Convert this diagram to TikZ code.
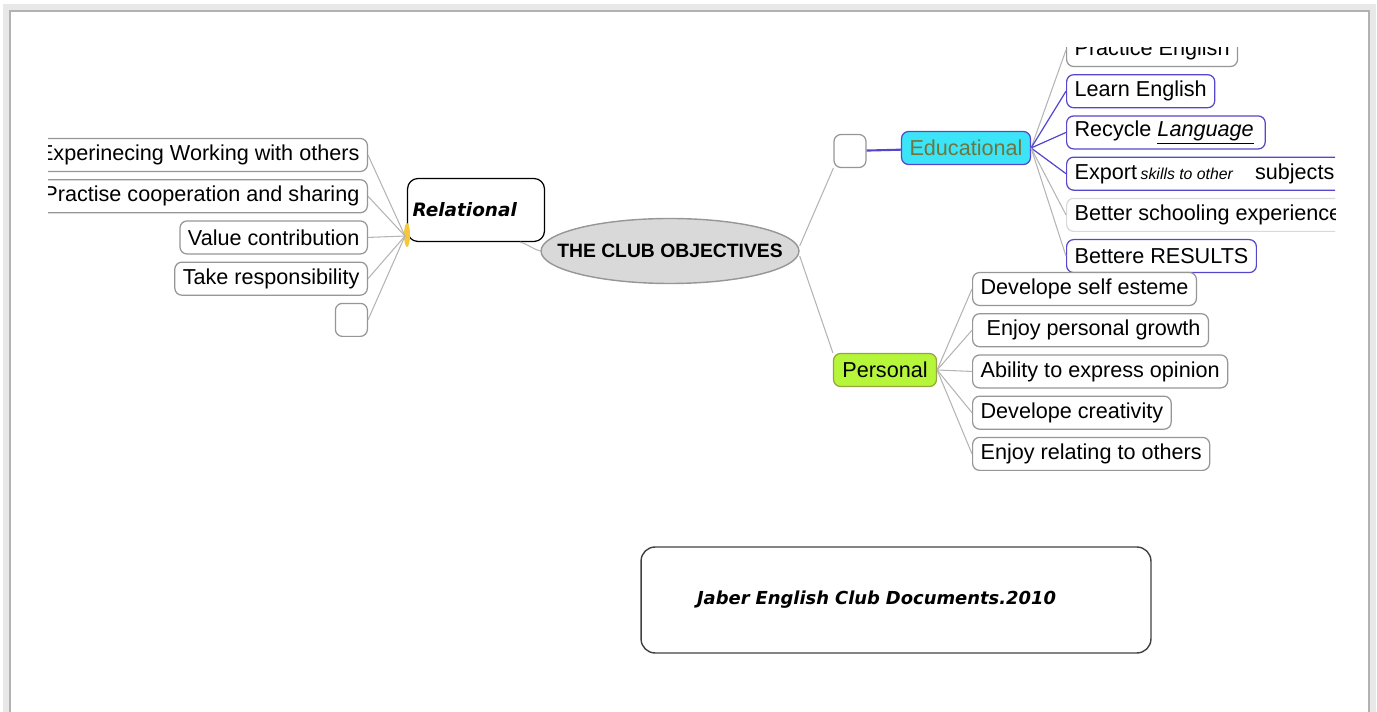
\documentclass[tikz,border=0pt]{standalone}
\usepackage{fontspec}
\setmainfont{Liberation Sans}
\newfontfamily\notefont{DejaVu Sans}
\usepackage{tikz}
\usetikzlibrary{shapes.geometric}
\usetikzlibrary{positioning}

\definecolor{boxgray}{RGB}{150,150,150}
\definecolor{linegray}{RGB}{180,180,180}
\definecolor{edublue}{RGB}{85,70,205}
\definecolor{educyan}{RGB}{60,228,248}
\definecolor{eduolive}{RGB}{110,118,62}
\definecolor{perslime}{RGB}{182,246,58}
\definecolor{persolive}{RGB}{150,165,60}
\definecolor{ovalgray}{RGB}{217,217,217}
\definecolor{humpyellow}{RGB}{245,200,60}

\begin{document}
\begin{tikzpicture}[x=0.02cm, y=-0.02cm, font=\fontsize{12.3}{14}\selectfont,
    idea/.style={rectangle, rounded corners=4pt, draw=boxgray, fill=white, line width=0.7pt, minimum height=0.66cm, inner xsep=0.16cm, inner ysep=0pt},
    eduidea/.style={idea, draw=edublue},
    blankidea/.style={idea, minimum width=0.64cm, inner xsep=0pt},
    link/.style={draw=linegray, line width=0.6pt},
    edulink/.style={draw=edublue, line width=0.7pt}]
    \useasboundingbox (0,0) rectangle (1377,712);
    \draw[gray!18, line width=3pt] (6,712) -- (6,7) -- (1373,7) -- (1373,712);
    \draw[gray!60, line width=1.2pt] (10,712) -- (10,11) -- (1369,11) -- (1369,712);

    \begin{scope}
    \clip (48,48) rectangle (1335,712);

    \node[ellipse, draw=boxgray, fill=ovalgray, line width=0.8pt, minimum width=5.16cm, minimum height=1.3cm, inner sep=0pt] (club) at (670,251) {};
    \node[font=\bfseries\fontsize{11}{13}\selectfont] (clubtext) at (club) {THE CLUB OBJECTIVES};

    \node[idea, draw=black, rounded corners=6pt, text width=2.54cm, inner xsep=0.1cm, minimum height=1.26cm, align=left, font=\notefont\bfseries\itshape\fontsize{10.5}{12}\selectfont] (relational) at (476,210) {Relational};
    \fill[humpyellow] (407,235) ellipse [x radius=3, y radius=12];
    \coordinate (relhub) at (405,236);

    \node[idea, anchor=east] (working) at (368,155) {Experinecing Working with others};
    \node[idea, below=0.14cm of working.south east, anchor=north east] (sharing) {Practise cooperation and sharing};
    \node[idea, below=0.14cm of sharing.south east, anchor=north east] (value) {Value contribution};
    \node[idea, below=0.14cm of value.south east, anchor=north east] (resp) {Take responsibility};
    \node[blankidea, below=0.14cm of resp.south east, anchor=north east] (blankrel) {};

    \node[blankidea] (blankedu) at (850,151) {};
    \node[idea, draw=edublue, fill=educyan, text=eduolive, minimum width=2.54cm] (educational) at (966,148) {Educational};

    \node[idea, anchor=west] (practice) at (1066,50) {Practice English};
    \node[eduidea, below=0.14cm of practice.south west, anchor=north west] (learn) {Learn English};
    \node[eduidea, below=0.14cm of learn.south west, anchor=north west] (recycle) {Recycle \underline{\textit{Language}}\,};
    \node[eduidea, below=0.14cm of recycle.south west, anchor=north west] (export) {Export\,\textit{\small skills to other}\quad subjects};
    \node[idea, draw=gray!30, below=0.14cm of export.south west, anchor=north west] (schooling) {Better schooling experience};
    \node[eduidea, below=0.14cm of schooling.south west, anchor=north west] (results) {Bettere RESULTS};

    \node[idea, draw=persolive, fill=perslime, minimum width=2.06cm] (personal) at (885,370) {Personal};

    \node[idea, anchor=west] (esteem) at (972,289) {Develope self esteme};
    \node[idea, below=0.14cm of esteem.south west, anchor=north west] (growth) {\ Enjoy personal growth};
    \node[idea, below=0.14cm of growth.south west, anchor=north west] (opinion) {Ability to express opinion};
    \node[idea, below=0.14cm of opinion.south west, anchor=north west] (creativity) {Develope creativity};
    \node[idea, below=0.14cm of creativity.south west, anchor=north west] (relating) {Enjoy relating to others};

    \draw[link] ([xshift=-0.5cm]relational.south east) to[out=-15, in=165] (club.west);
    \draw[link] ([yshift=0.1cm]club.east) -- (blankedu.south west);
    \draw[link] ([yshift=-0.1cm]club.east) -- (personal.north west);

    \draw[link] (working.east) -- (relhub);
    \draw[link] (sharing.east) -- (relhub);
    \draw[link] (value.east) -- (relhub);
    \draw[link] (resp.east) -- (relhub);
    \draw[link] (blankrel.east) -- (relhub);

    \draw[edulink, line width=1.2pt] (blankedu) -- (educational);
    \draw[link] (educational.east) -- (practice.west);
    \draw[edulink] (educational.east) -- (learn.west);
    \draw[edulink] (educational.east) -- (recycle.west);
    \draw[edulink] (educational.east) -- (export.west);
    \draw[link] (educational.east) -- (schooling.west);
    \draw[link] (educational.east) -- (results.west);

    \draw[link] (personal.east) -- (esteem.west);
    \draw[link] (personal.east) -- (growth.west);
    \draw[link] (personal.east) -- (opinion.west);
    \draw[link] (personal.east) -- (creativity.west);
    \draw[link] (personal.east) -- (relating.west);

    \node[draw=black!75, rounded corners=8pt, line width=0.8pt, text width=7.96cm, inner xsep=1.12cm, minimum height=2.12cm, align=left, font=\notefont\bfseries\itshape\fontsize{10.2}{12}\selectfont] (footer) at (896,600) {Jaber English Club Documents.2010};
    \end{scope}
\end{tikzpicture}
\end{document}
